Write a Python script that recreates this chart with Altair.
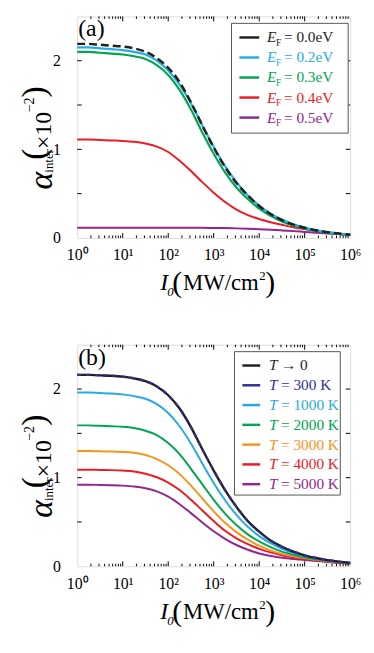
import altair as alt
import pandas as pd

FONT = "Liberation Serif"

# sample positions: log10 of intensity (MW/cm^2), quarter decades
log_i = [0, 0.25, 0.5, 0.75, 1, 1.25, 1.5, 1.75, 2, 2.25, 2.5, 2.75, 3,
         3.25, 3.5, 3.75, 4, 4.25, 4.5, 4.75, 5, 5.25, 5.5, 5.75, 6]
intensity = [10 ** e for e in log_i]

# ---- panel (a): Fermi level series ----
a_labels = ["0.0eV", "0.2eV", "0.3eV", "0.4eV", "0.5eV"]
a_colors = ["#231f20", "#27aae1", "#00a651", "#ed1c24", "#92278f"]
a_ef00 = [2.19, 2.19, 2.18, 2.17, 2.16, 2.14, 2.10, 2.03, 1.92, 1.76, 1.53, 1.27, 1.02,
          0.80, 0.62, 0.48, 0.36, 0.27, 0.20, 0.15, 0.115, 0.086, 0.065, 0.049, 0.036]
a_ef02 = [2.15, 2.15, 2.14, 2.13, 2.12, 2.10, 2.07, 2.00, 1.89, 1.73, 1.52, 1.27, 1.03,
          0.81, 0.63, 0.48, 0.365, 0.275, 0.207, 0.155, 0.117, 0.088, 0.066, 0.049, 0.037]
a_ef03 = [2.10, 2.10, 2.09, 2.08, 2.07, 2.05, 2.02, 1.95, 1.84, 1.67, 1.45, 1.19, 0.95,
          0.74, 0.57, 0.44, 0.33, 0.25, 0.186, 0.14, 0.105, 0.079, 0.059, 0.044, 0.033]
a_ef04 = [1.11, 1.11, 1.105, 1.10, 1.095, 1.085, 1.065, 1.03, 0.97, 0.87, 0.755, 0.63, 0.51,
          0.405, 0.32, 0.258, 0.213, 0.178, 0.148, 0.12, 0.10, 0.082, 0.064, 0.048, 0.036]
a_ef05 = [0.115, 0.115, 0.115, 0.115, 0.115, 0.115, 0.115, 0.115, 0.115, 0.115, 0.114, 0.114, 0.112,
          0.111, 0.108, 0.104, 0.098, 0.092, 0.085, 0.077, 0.068, 0.059, 0.051, 0.043, 0.036]

# ---- panel (b): temperature series ----
b_labels = ["→ 0", "= 300 K", "= 1000 K", "= 2000 K", "= 3000 K", "= 4000 K", "= 5000 K"]
b_colors = ["#231f20", "#2e3192", "#27aae1", "#00a651", "#f7941d", "#ed1c24", "#92278f"]
b_t0 = [2.16, 2.16, 2.155, 2.15, 2.14, 2.12, 2.09, 2.03, 1.93, 1.78, 1.57, 1.32, 1.08,
        0.86, 0.67, 0.51, 0.39, 0.29, 0.22, 0.165, 0.124, 0.093, 0.07, 0.052, 0.039]
b_t300 = [2.16, 2.16, 2.155, 2.15, 2.14, 2.12, 2.09, 2.03, 1.93, 1.78, 1.57, 1.32, 1.08,
          0.86, 0.67, 0.51, 0.39, 0.29, 0.22, 0.165, 0.124, 0.093, 0.07, 0.052, 0.039]
b_t1000 = [1.96, 1.96, 1.955, 1.95, 1.94, 1.92, 1.89, 1.83, 1.73, 1.58, 1.385, 1.16, 0.94,
           0.745, 0.58, 0.445, 0.34, 0.26, 0.198, 0.15, 0.115, 0.088, 0.067, 0.05, 0.038]
b_t2000 = [1.59, 1.59, 1.585, 1.58, 1.575, 1.56, 1.53, 1.48, 1.39, 1.265, 1.10, 0.925, 0.75,
           0.595, 0.465, 0.36, 0.28, 0.215, 0.165, 0.13, 0.102, 0.08, 0.062, 0.047, 0.035]
b_t3000 = [1.30, 1.30, 1.297, 1.295, 1.29, 1.28, 1.255, 1.21, 1.14, 1.04, 0.91, 0.765, 0.62,
           0.49, 0.385, 0.30, 0.232, 0.18, 0.14, 0.113, 0.092, 0.073, 0.057, 0.044, 0.033]
b_t4000 = [1.09, 1.09, 1.087, 1.085, 1.08, 1.07, 1.045, 1.005, 0.945, 0.86, 0.75, 0.63, 0.51,
           0.40, 0.315, 0.25, 0.197, 0.157, 0.125, 0.102, 0.084, 0.068, 0.053, 0.041, 0.031]
b_t5000 = [0.92, 0.92, 0.918, 0.915, 0.91, 0.90, 0.88, 0.845, 0.785, 0.70, 0.60, 0.495, 0.395,
           0.31, 0.24, 0.186, 0.145, 0.116, 0.097, 0.083, 0.072, 0.060, 0.048, 0.037, 0.028]

x_tick_values = [1, 10, 100, 1000, 10000, 100000, 1000000]
x_minor = [m * 10 ** k for k in range(6) for m in range(2, 10)]
y_tick_values = [0, 1, 2]
y_minor = [0.5, 1, 1.5, 2]

W, H = 276, 224

xscale = alt.Scale(type="log", domain=[1, 1e6], nice=False)
yscale = alt.Scale(domain=[0, 2.5], nice=False, zero=True)
xaxis = alt.Axis(values=x_tick_values, title=None, grid=False, ticks=False, tickSize=0,
                 domain=False, labelPadding=9, labelFont=FONT, labelFontSize=16,
                 labelColor="black", labelFlush=False, labelOverlap=False,
                 labelExpr="'10' + ['⁰','¹','²','³','⁴','⁵','⁶'][round(log(datum.value)/LN10)]")
yaxis = alt.Axis(values=y_tick_values, title=None, grid=False, ticks=False, tickSize=0,
                 domain=False, labelPadding=17, labelFont=FONT, labelFontSize=16,
                 labelColor="black", labelFlush=False)

ONE = alt.Data(values=[{"k": 0}])


def curve(values, color, width=2.0, dash=None):
    df = pd.DataFrame({"I": intensity, "alpha": values})
    kw = dict(color=color, strokeWidth=width, interpolate="monotone")
    if dash:
        kw["strokeDash"] = dash
    return alt.Chart(df).mark_line(**kw).encode(
        x=alt.X("I:Q", scale=xscale, axis=xaxis),
        y=alt.Y("alpha:Q", scale=yscale, axis=yaxis))


def ticks():
    layers = []
    for vals, ln in ((x_tick_values[1:-1], 5), (x_minor, 2.5)):
        d = pd.DataFrame({"v": vals})
        for y0, y1 in ((H, H - ln), (0, ln)):
            layers.append(alt.Chart(d).mark_rule(color="black", strokeWidth=1).encode(
                x=alt.X("v:Q", scale=xscale, axis=xaxis),
                y=alt.value(y0), y2=alt.value(y1)))
    d = pd.DataFrame({"v": y_minor})
    for x0, x1 in ((0, 4.5), (W, W - 4.5)):
        layers.append(alt.Chart(d).mark_rule(color="black", strokeWidth=1).encode(
            y=alt.Y("v:Q", scale=yscale, axis=yaxis),
            x=alt.value(x0), x2=alt.value(x1)))
    return layers


def txt(text, x, y, size, color="black", style="normal", angle=0):
    kw = dict(text=text, font=FONT, fontSize=size, color=color, fontStyle=style,
              align="left", baseline="alphabetic")
    if angle:
        kw["angle"] = angle
    return alt.Chart(ONE).mark_text(**kw).encode(x=alt.value(x), y=alt.value(y))


def titles(tag):
    L = [txt(tag, 1, 20, 24)]
    # x title: I0 (MW/cm^2)
    L += [txt("I", 84, 277, 24, style="italic"),
          txt("0", 91, 283, 13, style="italic"),
          txt("(", 96, 279, 30),
          txt("MW/cm", 107, 277, 23),
          txt("2", 184, 267, 13),
          txt(")", 190, 279, 30)]
    # y title: alpha_inter (x10^-2), rotated
    L += [txt("α", -26, 175, 34, style="italic", angle=270),
          txt("inter", -24, 158, 13, angle=270),
          txt("(", -33, 145, 34, angle=270),
          txt("×10", -27, 134, 24, angle=270),
          txt("−2", -44, 97, 14, angle=270),
          txt(")", -33, 82, 34, angle=270)]
    return L


def legend_box(x0, x1, y0, y1):
    return alt.Chart(ONE).mark_rect(fill="white", stroke="#555555", strokeWidth=1).encode(
        x=alt.value(x0), x2=alt.value(x1), y=alt.value(y0), y2=alt.value(y1))


def legend_a():
    L = [legend_box(156, 274, 7, 118)]
    for i, (lab, col) in enumerate(zip(a_labels, a_colors)):
        yc = 21.3 + i * 20.25
        L.append(alt.Chart(ONE).mark_rule(color=col, strokeWidth=2.5).encode(
            x=alt.value(164), x2=alt.value(184), y=alt.value(yc)))
        L.append(txt("E", 192, yc + 5, 15.5, col, "italic"))
        L.append(txt("F", 201, yc + 9, 9.5, col))
        L.append(txt("= " + lab, 209, yc + 5, 15.5, col))
    return L


def legend_b():
    L = [legend_box(159, 266, 7, 152)]
    for i, (lab, col) in enumerate(zip(b_labels, b_colors)):
        yc = 21 + i * 20
        L.append(alt.Chart(ONE).mark_rule(color=col, strokeWidth=2.5).encode(
            x=alt.value(167), x2=alt.value(185), y=alt.value(yc)))
        L.append(txt("T", 194, yc + 5, 15.5, col, "italic"))
        L.append(txt(lab, 206, yc + 5, 15.5, col))
    return L


panel_a = alt.layer(
    curve(a_ef05, a_colors[4]),
    curve(a_ef04, a_colors[3]),
    curve(a_ef03, a_colors[2], 2.2),
    curve(a_ef02, a_colors[1], 2.2),
    curve(a_ef00, a_colors[0], 2.5, [8, 4]),
    *ticks(), *legend_a(), *titles("(a)")
).properties(width=W, height=H)

panel_b = alt.layer(
    curve(b_t5000, b_colors[6]),
    curve(b_t4000, b_colors[5]),
    curve(b_t3000, b_colors[4]),
    curve(b_t2000, b_colors[3]),
    curve(b_t1000, b_colors[2]),
    curve(b_t0, b_colors[0], 2.4),
    curve(b_t300, b_colors[1], 2.4, [4, 5]),
    *ticks(), *legend_b(), *titles("(b)")
).properties(width=W, height=H)

chart = alt.vconcat(panel_a, panel_b, spacing=44).properties(
    padding={"left": 9, "top": 4, "right": 4, "bottom": 4}
).configure_view(stroke="black", strokeWidth=1.2).configure(background="white")

chart.save("out.html", embed_options={"renderer": "svg", "actions": False})
